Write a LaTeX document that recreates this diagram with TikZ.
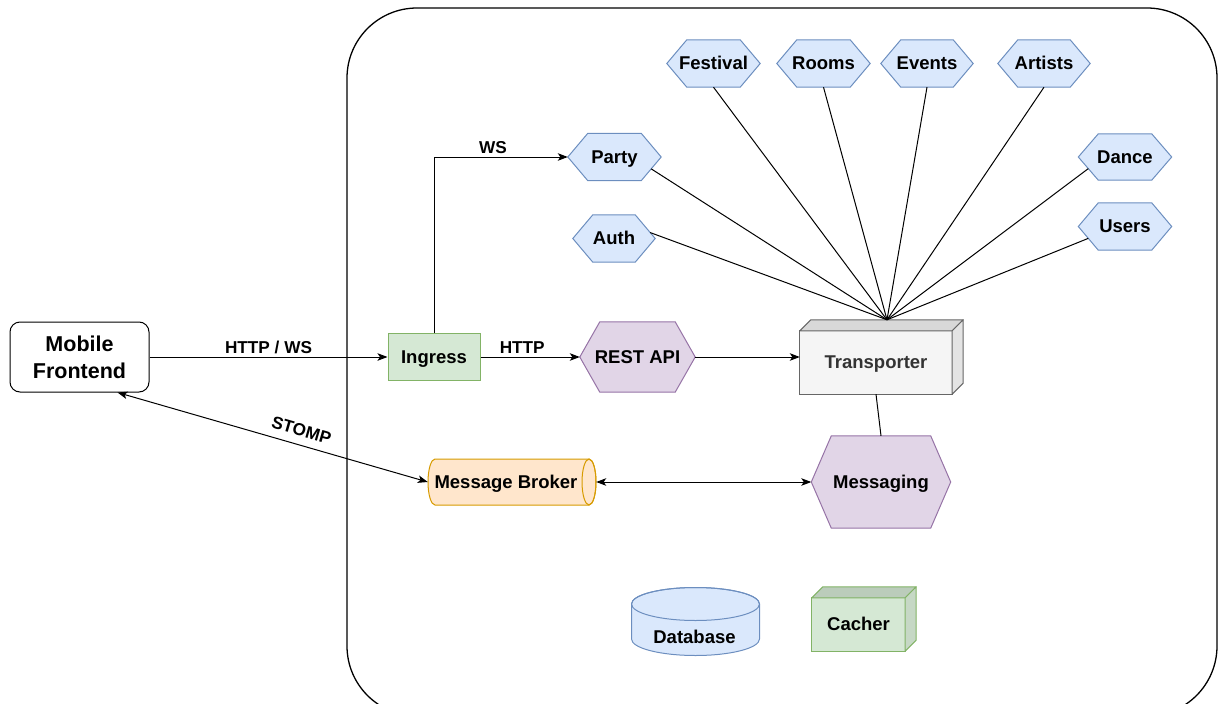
\documentclass[tikz,border=0pt]{standalone}
\usepackage{fontspec}
\setmainfont{Liberation Sans}
\usetikzlibrary{arrows.meta,calc}

\definecolor{blueF}{HTML}{DAE8FC}
\definecolor{blueD}{HTML}{6C8EBF}
\definecolor{greenF}{HTML}{D5E8D4}
\definecolor{greenD}{HTML}{82B366}
\definecolor{purpleF}{HTML}{E1D5E7}
\definecolor{purpleD}{HTML}{9673A6}
\definecolor{orangeF}{HTML}{FFE6CC}
\definecolor{orangeD}{HTML}{D79B00}
\definecolor{grayF}{HTML}{F5F5F5}
\definecolor{grayD}{HTML}{666666}
\definecolor{grayT}{HTML}{333333}

\pgfdeclarelayer{bg}
\pgfsetlayers{bg,main}

% depth of the pointed ends of the hexagons
\newcommand\hexcut{20pt}

% hexagon: name, centre, width, height, colours, label
\newcommand\hexnode[6]{%
  \node[lbl, minimum width=#3, minimum height=#4] (#1) at #2 {#6};
  \begin{pgfonlayer}{bg}
    \draw[#5, line width=1pt] (#1.west) -- ([xshift=\hexcut]#1.north west)
      -- ([xshift=-\hexcut]#1.north east) -- (#1.east)
      -- ([xshift=-\hexcut]#1.south east) -- ([xshift=\hexcut]#1.south west) -- cycle;
  \end{pgfonlayer}
  \coordinate (#1-se) at ($(#1.east)!0.5!([xshift=-\hexcut]#1.south east)$);
  \coordinate (#1-sw) at ($(#1.west)!0.5!([xshift=\hexcut]#1.south west)$);
  \coordinate (#1-ne) at ($(#1.east)!0.25!([xshift=-\hexcut]#1.north east)$);
}

% box with depth: name, centre, width, height, depth, fill, draw, label
\newcommand\cubenode[8]{%
  \node[lbl, minimum width=#3, minimum height=#4] (#1) at #2 {#8};
  \begin{pgfonlayer}{bg}
    \draw[fill=#6, draw=#7, line width=1pt] (#1.south west) rectangle (#1.north east);
    \draw[fill=#6!88!black, draw=#7, line width=1pt, line join=round]
      (#1.north west) -- ++(#5,-#5) -- ([shift={(#5,-#5)}]#1.north east)
      -- (#1.north east) -- cycle;
    \draw[fill=#6!93!black, draw=#7, line width=1pt, line join=round]
      (#1.north east) -- ++(#5,-#5) -- ([shift={(#5,-#5)}]#1.south east)
      -- (#1.south east) -- cycle;
  \end{pgfonlayer}
}

\begin{document}
\begin{tikzpicture}[x=1pt, y=-1pt,
  lbl/.style={inner sep=0pt, text height=12.5pt, text depth=0pt,
    font=\fontsize{18.5}{22}\selectfont\bfseries},
  elabel/.style={inner sep=3pt, font=\fontsize{17.2}{20}\selectfont\bfseries},
  conn/.style={line width=1pt, draw=black},
  arr/.style={-{Stealth[length=10pt,width=7.5pt,inset=2.5pt]}},
  arrtwo/.style={{Stealth[length=10pt,width=7.5pt,inset=2.5pt]}-{Stealth[length=10pt,width=7.5pt,inset=2.5pt]}},
  blueS/.style={fill=blueF, draw=blueD},
  purpleS/.style={fill=purpleF, draw=purpleD},
  frontbox/.style={draw, line width=1pt, rounded corners=10pt, inner sep=0pt,
    minimum width=139pt, minimum height=70pt, align=center,
    font=\fontsize{21.5}{27}\selectfont\bfseries},
  plainbox/.style={lbl, draw, line width=1pt}
]
\useasboundingbox (0,0) rectangle (1219,704);

% outer boundary of the backend
\begin{scope}
  \clip (0,0) rectangle (1219,704);
  \draw[line width=1.3pt, rounded corners=70pt] (347,8) rectangle (1217,716);
\end{scope}

% client
\node[frontbox] (front) at (79.5,357) {Mobile\\Frontend};

% entry point
\node[plainbox, fill=greenF, draw=greenD, minimum width=92pt, minimum height=47pt]
  (ingress) at (434,357) {Ingress};

% services
\hexnode{festival}{(713.5,63.5)}{93pt}{47pt}{blueS}{Festival}
\hexnode{rooms}{(823.5,63.5)}{93pt}{47pt}{blueS}{Rooms}
\hexnode{events}{(927,63.5)}{92pt}{47pt}{blueS}{Events}
\hexnode{artists}{(1044,63.5)}{92pt}{47pt}{blueS}{Artists}
\hexnode{party}{(614.5,157)}{93pt}{47pt}{blueS}{Party}
\hexnode{dance}{(1125,157)}{93pt}{46pt}{blueS}{Dance}
\hexnode{auth}{(614,238.5)}{82pt}{47pt}{blueS}{Auth}
\hexnode{users}{(1125,226.5)}{93pt}{47pt}{blueS}{Users}
\hexnode{rest}{(637.5,357)}{115pt}{70pt}{purpleS}{REST API}
\hexnode{msg}{(881,482)}{139pt}{92pt}{purpleS}{Messaging}

% transport layer and cache
\cubenode{trans}{(876,362.5)}{152pt}{63pt}{11}{grayF}{grayD}{\color{grayT}Transporter}
\cubenode{cacher}{(858.5,624.5)}{93pt}{53pt}{11}{greenF}{greenD}{Cacher}
\coordinate (hub) at ([shift={(11,-11)}]trans.north);

% message broker (horizontal cylinder)
\node[minimum width=168pt, minimum height=46pt, inner sep=0pt] (broker) at (512,482) {};
\begin{pgfonlayer}{bg}
  \draw[fill=orangeF, draw=orangeD, line width=1pt]
    (435,459) -- (589,459) arc[start angle=-90, end angle=90, x radius=7, y radius=23]
    -- (435,505) arc[start angle=90, end angle=270, x radius=7, y radius=23] -- cycle;
  \draw[draw=orangeD, line width=1pt] (589,482) ellipse[x radius=7, y radius=23];
\end{pgfonlayer}
\node[lbl] (brokerlabel) at (506,482) {Message Broker};

% database (vertical cylinder)
\draw[fill=blueF, draw=blueD, line width=1pt]
  (631.5,604) -- (631.5,639) arc[start angle=180, end angle=0, x radius=64, y radius=16.5]
  -- (759.5,604) arc[start angle=0, end angle=-180, x radius=64, y radius=16.5] -- cycle;
\draw[draw=blueD, line width=1pt] (695.5,604) ellipse[x radius=64, y radius=16.5];
\node[lbl] (db) at (694.5,637) {Database};

% connectors
\draw[conn, arr] (front.east) -- node[elabel, above]{HTTP / WS} (ingress.west);
\draw[conn, arr] (ingress.north) |- node[elabel, above, pos=0.72]{WS} (party.west);
\draw[conn, arr] (ingress.east) -- node[elabel, above, pos=0.42]{HTTP} (rest.west);
\draw[conn, arr] (rest.east) -- (rest.east -| trans.west);
\draw[conn] (trans.south) -- (msg.north);
\draw[conn, arrtwo] (broker.east) -- (msg.west);
\draw[conn, arrtwo] ([xshift=38pt]front.south) --
  node[elabel, sloped, above=5pt, pos=0.58]{STOMP} (broker.west);

% service links into the transporter
\foreach \s in {festival.south, rooms.south, events.south, artists.south,
                party-se, auth-ne, dance-sw, users-sw}
  \draw[conn] (\s) -- (hub);
\end{tikzpicture}
\end{document}
